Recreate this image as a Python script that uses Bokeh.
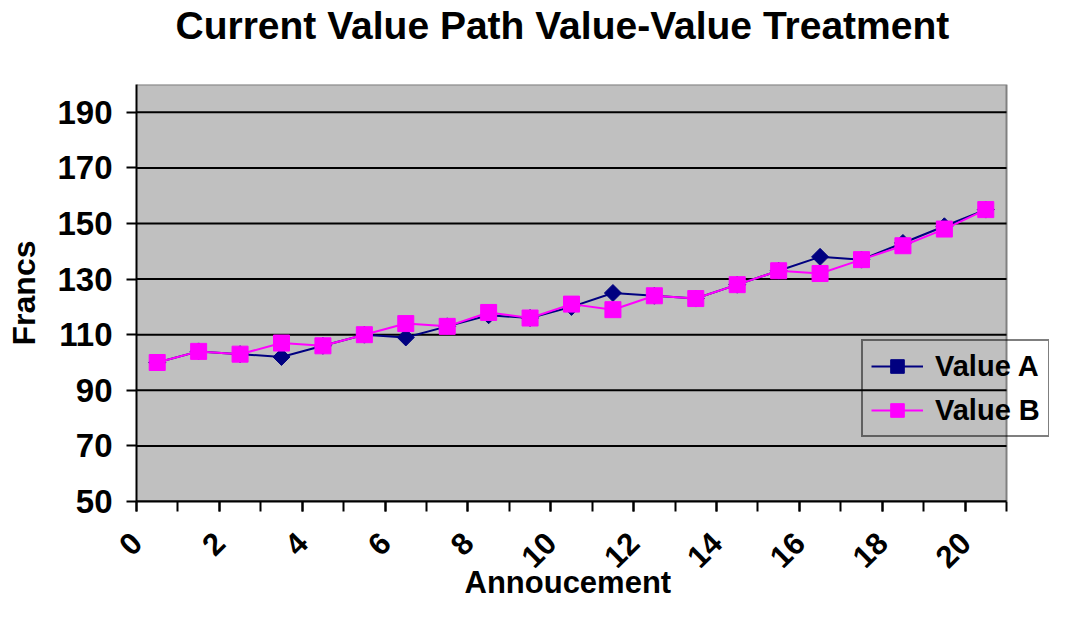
import numpy as np
from bokeh.plotting import figure
from bokeh.models import FixedTicker, Range1d, Legend, LegendItem, Title
from bokeh.embed import file_html
from bokeh.resources import INLINE

# ---- data ----
announcements = list(range(21))
value_a = [100, 104, 103, 102, 106, 110, 109, 113, 117, 116, 120,
           125, 124, 123, 128, 133, 138, 137, 143, 149, 155]
value_b = [100, 104, 103, 107, 106, 110, 114, 113, 118, 116, 121,
           119, 124, 123, 128, 133, 132, 137, 142, 148, 155]
y_ticks = [50, 70, 90, 110, 130, 150, 170, 190]
y_min, y_max = 50, 200
x_label_ticks = [0, 2, 4, 6, 8, 10, 12, 14, 16, 18, 20]
x_tick_labels = ["0", "2", "4", "6", "8", "10", "12", "14", "16", "18", "20"]
series_names = ["Value A", "Value B"]
title_text = "Current Value Path Value-Value Treatment"
x_title = "Annoucement"
y_title = "Francs"

# ---- layout constants (pixels) ----
FONT = "Liberation Sans"
W, H = 1049, 601
LEFT, TOP, BOTTOM = 136, 84, 100
PLOT_AREA_W = 870                       # width of the grey category area
n = len(announcements)
frame_w = W - LEFT
x_end = -0.5 + n * frame_w / PLOT_AREA_W

p = figure(width=W, height=H, output_backend="svg", toolbar_location=None,
           x_range=Range1d(-0.5, x_end), y_range=Range1d(y_min, y_max),
           min_border_left=LEFT, min_border_right=0,
           min_border_top=TOP, min_border_bottom=BOTTOM)

p.background_fill_color = "white"
p.border_fill_color = "white"
p.outline_line_color = None
p.xgrid.visible = False
p.ygrid.visible = False

# spacing between the title and the plot area, then the title itself
p.add_layout(Title(text=" ", text_font=FONT, text_font_size="10px", standoff=25),
             "above")
p.add_layout(Title(text=title_text, align="left", offset=39,
                   text_font=FONT, text_font_style="bold",
                   text_font_size="39px", text_color="black", standoff=0),
             "above")

# x-axis title below the tick labels
p.add_layout(Title(text=x_title, align="left", offset=328,
                   text_font=FONT, text_font_style="bold",
                   text_font_size="31px", text_color="black", standoff=-36),
             "below")

# grey plot area, outline and grid lines
p.quad(left=-0.5, right=n - 0.5, bottom=y_min, top=y_max,
       fill_color="#C0C0C0", line_color=None)
p.line(x=[-0.5, n - 0.5, n - 0.5], y=[y_max, y_max, y_min],
       line_color="#808080", line_width=2)
p.segment(x0=[-0.5] * len(y_ticks), x1=[n - 0.5] * len(y_ticks),
          y0=y_ticks, y1=y_ticks, line_color="black", line_width=2)

# x axis: labels sit at category boundaries like the original
xa = p.xaxis[0]
label_pos = [t - 0.5 for t in x_label_ticks]
xa.ticker = FixedTicker(ticks=label_pos,
                        minor_ticks=[i - 0.5 for i in range(n + 1)])
xa.major_label_overrides = {pos: lab for pos, lab in zip(label_pos, x_tick_labels)}
xa.bounds = (-0.5, n - 0.5)
xa.major_label_orientation = np.pi / 4
xa.major_tick_out = 10
xa.major_tick_in = 0
xa.minor_tick_out = 10
xa.minor_tick_in = 0
xa.major_tick_line_color = "black"
xa.major_tick_line_width = 2
xa.minor_tick_line_color = "black"
xa.minor_tick_line_width = 2
xa.axis_line_color = "black"
xa.axis_line_width = 2
xa.major_label_text_font = FONT
xa.major_label_text_font_style = "bold"
xa.major_label_text_font_size = "31px"
xa.major_label_text_color = "black"
xa.major_label_standoff = 26

# y axis
ya = p.yaxis[0]
ya.ticker = FixedTicker(ticks=y_ticks, minor_ticks=[])
ya.major_tick_out = 10
ya.major_tick_in = 0
ya.major_tick_line_color = "black"
ya.major_tick_line_width = 2
ya.axis_line_color = "black"
ya.axis_line_width = 2
ya.major_label_text_font = FONT
ya.major_label_text_font_style = "bold"
ya.major_label_text_font_size = "33px"
ya.major_label_text_color = "black"
ya.major_label_standoff = 14
ya.axis_label = y_title
ya.axis_label_text_font = FONT
ya.axis_label_text_font_style = "bold"
ya.axis_label_text_font_size = "32px"
ya.axis_label_text_color = "black"
ya.axis_label_standoff = 12

# series
ra_line = p.line(announcements, value_a, line_color="#000080", line_width=2)
ra_pts = p.scatter(announcements, value_a, marker="square", angle=np.pi / 4,
                   size=12, fill_color="#000080", line_color="#000080")
rb_line = p.line(announcements, value_b, line_color="#FF00FF", line_width=2)
rb_pts = p.scatter(announcements, value_b, marker="square", size=16,
                   fill_color="#FF00FF", line_color="#FF00FF")

legend = Legend(items=[LegendItem(label=series_names[0], renderers=[ra_line, ra_pts]),
                       LegendItem(label=series_names[1], renderers=[rb_line, rb_pts])],
                location=(725, 64), margin=0,
                border_line_color="black", border_line_width=2,
                background_fill_alpha=0,
                label_text_font=FONT, label_text_font_style="bold",
                label_text_font_size="29px", label_text_color="black",
                glyph_width=52, glyph_height=34, label_height=34,
                spacing=10, padding=8, label_standoff=12)
p.add_layout(legend)

open("out.html", "w").write(file_html(p, INLINE))
